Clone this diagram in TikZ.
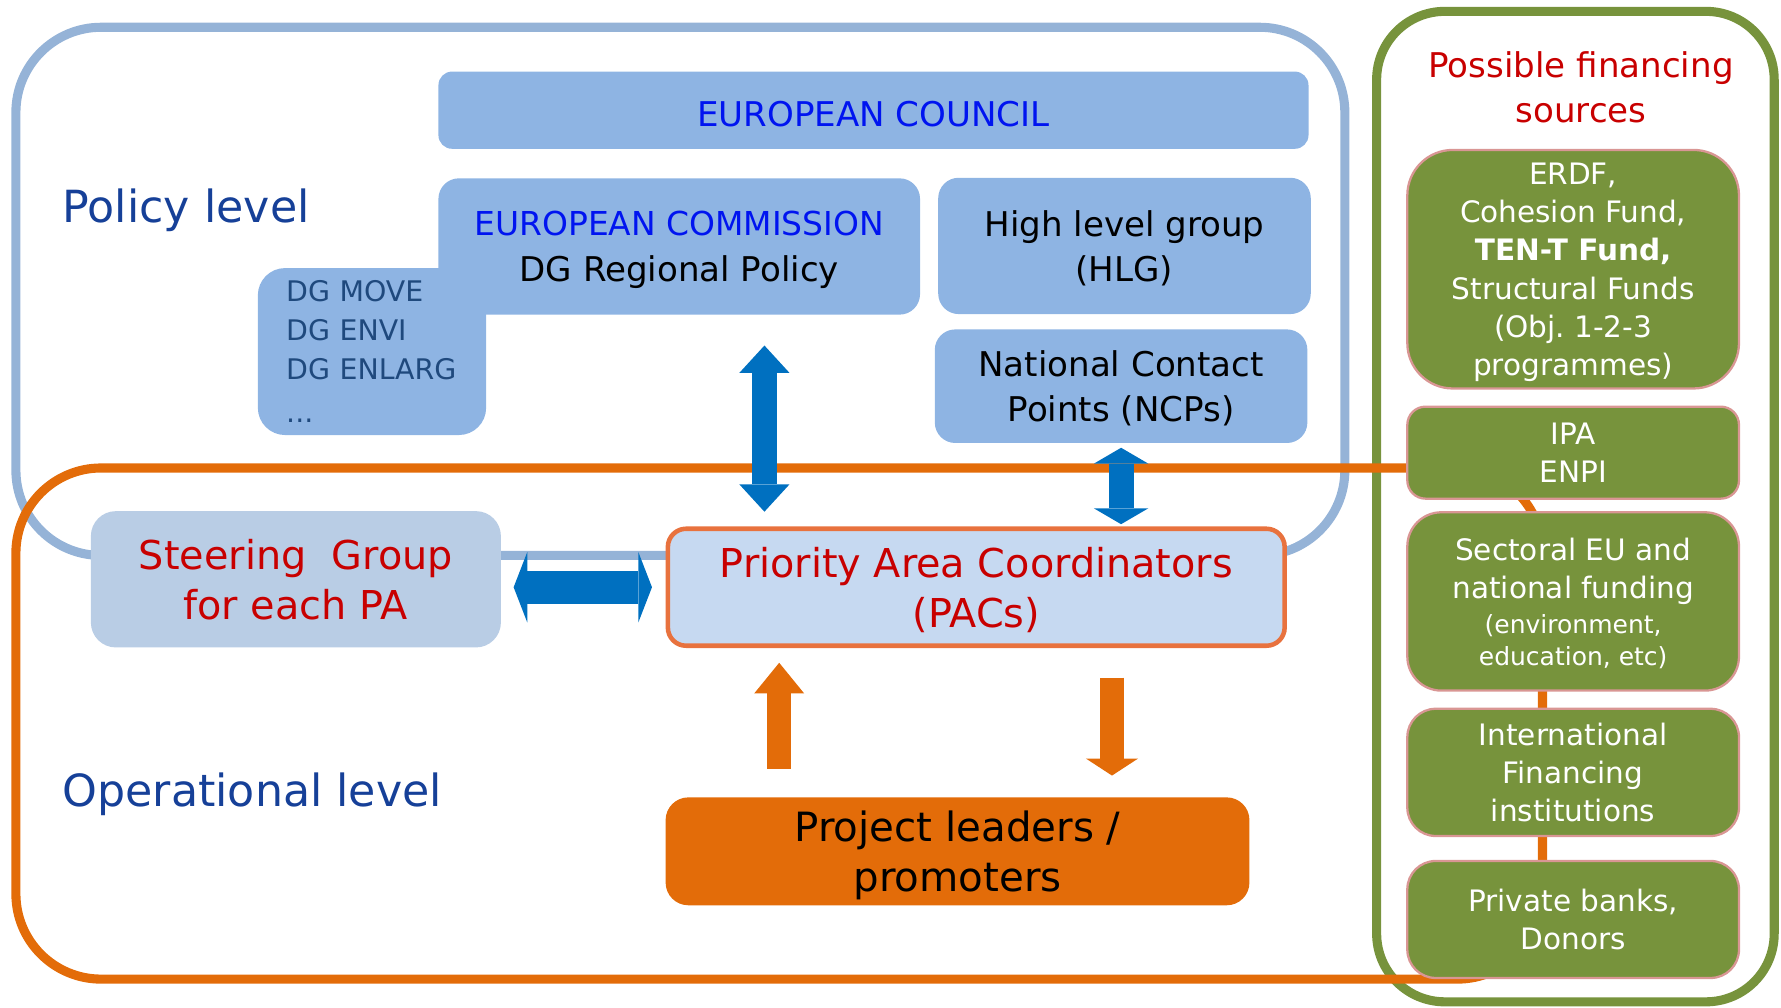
\documentclass[tikz,border=0pt]{standalone}
\usepackage{fontspec}
\setmainfont{DejaVu Sans}
\usetikzlibrary{arrows.meta, positioning}

\definecolor{frameblue}{RGB}{149,179,215}
\definecolor{boxblue}{RGB}{142,180,227}
\definecolor{steerblue}{RGB}{185,205,229}
\definecolor{pacfill}{RGB}{198,217,241}
\definecolor{pacedge}{RGB}{232,114,62}
\definecolor{orangeline}{RGB}{227,108,9}
\definecolor{arrowblue}{RGB}{0,112,192}
\definecolor{fundgreen}{RGB}{119,147,60}
\definecolor{fundpink}{RGB}{217,150,148}
\definecolor{pacred}{RGB}{200,0,0}
\definecolor{councilblue}{RGB}{0,20,240}
\definecolor{leveltext}{RGB}{22,64,152}
\definecolor{dgtext}{RGB}{31,73,125}

\tikzstyle{frame} = [line width=8pt]
\tikzstyle{bluebox} = [rectangle, rounded corners=18pt, fill=boxblue, inner sep=0pt, align=center, text depth=0pt, font=\fontsize{30}{40}\selectfont]
\tikzstyle{fundbox} = [rectangle, rounded corners=25pt, fill=fundgreen, draw=fundpink, line width=2pt, minimum width=292pt, inner sep=0pt, align=center, text=white, font=\fontsize{26}{33.6}\selectfont]
\tikzstyle{level} = [anchor=base west, inner sep=0pt, text=leveltext, font=\fontsize{39}{45}\selectfont]
\tikzstyle{blueboth} = [draw=arrowblue, line width=22pt, {Triangle[length=24pt,width=44pt,line width=0pt]}-{Triangle[length=24pt,width=44pt,line width=0pt]}]
\tikzstyle{bluesmall} = [draw=arrowblue, line width=22pt, {Triangle[length=14pt,width=48pt,line width=0pt]}-{Triangle[length=14pt,width=48pt,line width=0pt]}]
\tikzstyle{bluewide} = [draw=arrowblue, line width=29pt, {Triangle[length=12pt,width=62pt,line width=0pt]}-{Triangle[length=12pt,width=62pt,line width=0pt]}]
\tikzstyle{orangeup} = [draw=orangeline, line width=21pt, -{Triangle[length=27pt,width=44pt,line width=0pt]}]
\tikzstyle{orangedown} = [draw=orangeline, line width=21pt, -{Triangle[length=15pt,width=46pt,line width=0pt]}]

\begin{document}
\begin{tikzpicture}[x=1pt, y=-1pt]

\useasboundingbox (0,0) rectangle (1568,887);

\draw [frame, draw=fundgreen, rounded corners=60pt] (1212,10) rectangle (1562,882);
\draw [frame, draw=frameblue, rounded corners=75pt] (14,24) rectangle (1184,489);
\draw [frame, draw=orangeline, rounded corners=75pt] (14,412) rectangle (1358,862);

\node (policy) [level] at (55,196) {Policy level};
\node (oper) [level] at (55,710) {Operational level};

\node (council) [bluebox, minimum width=766pt, minimum height=68pt, rounded corners=12pt, text height=28pt, text=councilblue] at (769,97) {EUROPEAN COUNCIL};
\node (dgs) [bluebox, minimum width=201pt, minimum height=147pt, rounded corners=24pt, text width=151pt, align=left, text depth=, text=dgtext, font=\fontsize{25}{34}\selectfont] at (327.5,309.5) {DG MOVE\\DG ENVI\\DG ENLARG\\[4pt]...};
\node (comm) [bluebox, minimum width=424pt, minimum height=120pt] at (598,217) {\textcolor{councilblue}{\fontsize{29}{40}\selectfont EUROPEAN COMMISSION}\\DG Regional Policy};
\node (hlg) [bluebox, minimum width=328pt, minimum height=120pt] at (990,216.5) {High level group\\(HLG)};
\node (ncp) [bluebox, minimum width=328pt, minimum height=100pt] at (987,340) {National Contact\\Points (NCPs)};

\node (steer) [rectangle, rounded corners=22pt, fill=steerblue, minimum width=361pt, minimum height=120pt, align=center, text=pacred, font=\fontsize{35}{44}\selectfont] at (260.5,510) {Steering\ \ Group\\for each PA};
\node (pac) [rectangle, rounded corners=16pt, fill=pacfill, draw=pacedge, line width=4pt, minimum width=543pt, minimum height=103pt, align=center, text depth=0pt, text=pacred, font=\fontsize{35}{44}\selectfont] at (859.5,517) {Priority Area Coordinators\\(PACs)};
\node (proj) [rectangle, rounded corners=20pt, fill=orangeline, minimum width=514pt, minimum height=95pt, align=center, text depth=0pt, font=\fontsize{35.5}{44}\selectfont] at (843,749.5) {Project leaders /\\promoters};

\node (fintitle) [align=center, inner sep=0pt, text=pacred, font=\fontsize{30}{40}\selectfont] at (1392,77) {Possible financing\\sources};
\node (erdf) [fundbox, minimum height=210pt, rounded corners=40pt, text depth=0pt] at (1385,237) {ERDF,\\Cohesion Fund,\\\textbf{TEN-T Fund,}\\Structural Funds\\(Obj.\ 1-2-3\\programmes)};
\node (ipa) [fundbox, minimum height=81pt, rounded corners=16pt, below=14pt of erdf] {IPA\\ENPI};
\node (sect) [fundbox, minimum height=157pt, rounded corners=30pt, text depth=0pt, below=10pt of ipa] {Sectoral EU and\\national funding\\[-2.6pt]\fontsize{22}{28}\selectfont (environment,\\[-5.6pt]\fontsize{22}{28}\selectfont education, etc)};
\node (ifi) [fundbox, minimum height=112pt, below=14pt of sect] {International\\Financing\\institutions};
\node (banks) [fundbox, minimum height=103pt, below=20pt of ifi] {Private banks,\\Donors};

\coordinate (cpx) at (673,0);
\coordinate (upx) at (686,0);
\coordinate (dnx) at (979,0);

\draw [blueboth, shorten <=27pt, shorten >=13pt] (comm.south -| cpx) -- (pac.north -| cpx);
\draw [bluesmall, shorten <=4pt, shorten >=2pt] (ncp.south) -- (pac.north -| ncp.south);
\draw [bluewide, shorten <=11pt, shorten >=12pt] (pac.west -| steer.east) -- (pac.west);
\draw [orangeup, shorten <=25pt, shorten >=13pt] (proj.north -| upx) -- (pac.south -| upx);
\draw [orangedown, shorten <=26pt, shorten >=19pt] (pac.south -| dnx) -- (proj.north -| dnx);

\end{tikzpicture}
\end{document}
